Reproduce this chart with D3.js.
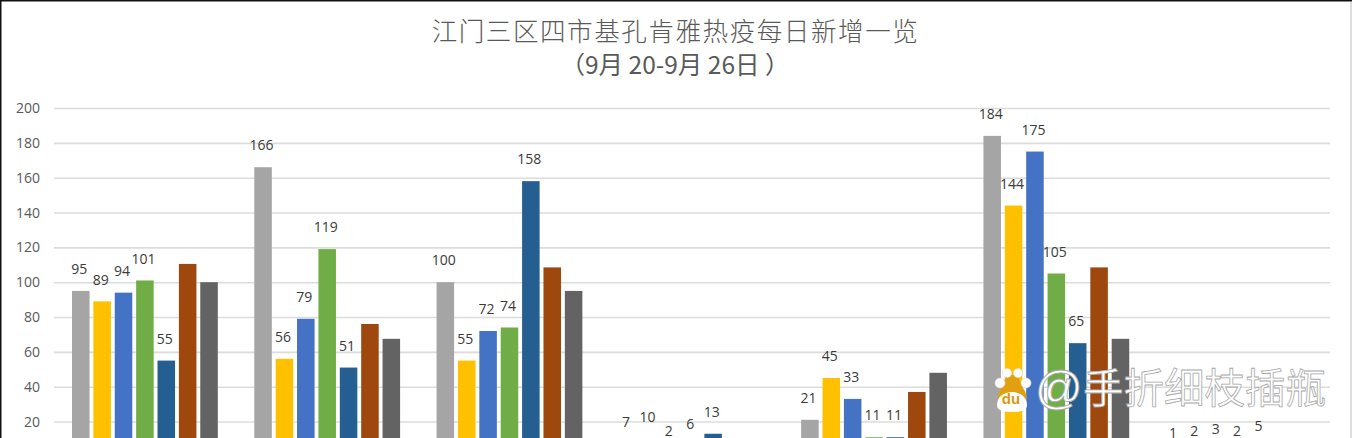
<!DOCTYPE html>
<html><head><meta charset="utf-8">
<script src="https://cdn.jsdelivr.net/npm/d3@7/dist/d3.min.js"></script>
<style>html,body{margin:0;padding:0;background:#fff}svg{display:block}.t{text-spacing-trim:space-all;font-feature-settings:"palt" 0}</style>
</head><body><svg id="c" width="1352" height="438"></svg>
<script>
const days=["g1","g2","g3","g4","g5","g6","g7"];
const s1=[95,166,100,7,21,184,1];
const s2=[89,56,55,10,45,144,2];
const s3=[94,79,72,2,33,175,3];
const s4=[101,119,74,6,11,105,2];
const s5=[55,51,158,13,11,65,5];
const s6=[110.5,76,108.5,null,37,108.5,null];
const s7=[100,67.5,95,null,48,67.5,null];
const seriesValues=[s1,s2,s3,s4,s5,s6,s7];
const seriesColors=["#a5a5a5","#ffc000","#4472c4","#70ad47","#255e91","#9e480e","#636363"];
const labelled=[true,true,true,true,true,false,false];
const yTicks=[20,40,60,80,100,120,140,160,180,200];
const titleLines=["江门三区四市基孔肯雅热疫每日新增一览","（9月 20-9月 26日 ）"];
const watermarkAt="@";
const watermark="手折细枝插瓶";

const svg=d3.select("#c");
const y=d3.scaleLinear().domain([0,200]).range([456.4,108]);
const x=d3.scaleBand().domain(days).range([54,1330]);
const xs=d3.scaleBand().domain(d3.range(7)).range([18,163.8]).paddingInner(0.18).paddingOuter(0);

svg.append("rect").attr("width",1352).attr("height",438).attr("fill","#fff");
svg.append("rect").attr("x",1350).attr("y",2).attr("width",2).attr("height",436).attr("fill","#dedede");
svg.append("path").attr("d","M0.5,438V0.5H1352").attr("fill","none").attr("stroke","#111").attr("stroke-width",2);

const axis=d3.axisLeft(y).tickValues(yTicks).tickSize(-1276).tickPadding(14);
const ag=svg.append("g").attr("transform","translate(54,0)").call(axis);
ag.select(".domain").remove();
ag.selectAll("line").attr("stroke","#dcdcdc").attr("stroke-width",1.6);
ag.selectAll("text").attr("fill","#595959").attr("font-family","'Open Sans','Noto Sans',sans-serif").attr("font-size",14);

seriesValues.forEach((vals,i)=>{
  const g=svg.append("g");
  const pts=days.map((d,j)=>({d,v:vals[j]})).filter(p=>p.v!==null);
  g.selectAll("rect").data(pts).join("rect")
    .attr("x",p=>x(p.d)+xs(i)).attr("width",xs.bandwidth())
    .attr("y",p=>y(p.v)).attr("height",p=>y(0)-y(p.v))
    .attr("fill",seriesColors[i]);
  if(labelled[i]) g.selectAll("text").data(pts).join("text")
    .attr("x",p=>x(p.d)+xs(i)+xs.bandwidth()/2-1.5)
    .attr("y",p=>y(p.v)-16.8)
    .attr("text-anchor","middle")
    .attr("fill","#3a3a3a")
    .attr("font-family","'Open Sans','Noto Sans',sans-serif")
    .attr("font-size",14)
    .text(p=>p.v);
});

svg.selectAll("text.t").data(titleLines).join("text").attr("class","t")
  .attr("x",(d,i)=>i?675:675.5).attr("y",(d,i)=>i?74:41)
  .attr("text-anchor","middle").attr("fill","#595959")
  .attr("font-family","'Noto Sans CJK SC',sans-serif").attr("font-weight",(d,i)=>i?400:300)
  .attr("font-size",(d,i)=>i?24.5:25.6).attr("letter-spacing",(d,i)=>i?0:1.5)
  .style("white-space","pre")
  .text(d=>d);

// watermark
const wm=svg.append("g");
wm.append("path").attr("d","M1012,375C1005,375 1003,383 1001,388C997,394 996,405 1004,406C1010,407 1014,407 1020,406C1028,405 1028,394 1023,388C1021,383 1019,375 1012,375Z").attr("fill","#e0a010");
const paw=wm.append("g").attr("fill","#fff").attr("stroke","#ddd").attr("stroke-width",0.6);
[[1007,373,4.6],[1018,373,4.6],[1000,383,5],[1026,383,5]].forEach(c=>paw.append("circle").attr("cx",c[0]).attr("cy",c[1]).attr("r",c[2]));
wm.append("path").attr("d","M997,405C997,397 1004,392 1012,392C1020,392 1027,397 1027,405C1027,411 1020,412 1012,412C1004,412 997,411 997,405Z").attr("fill","#fff");
wm.append("text").attr("x",1011).attr("y",404).attr("text-anchor","middle").attr("fill","#d9990f").attr("font-family","'Liberation Sans',sans-serif").attr("font-weight",700).attr("font-size",15).text("du");
wm.append("text").attr("x",1035).attr("y",404).attr("fill","#fff").attr("stroke","#a8a8a8").attr("stroke-width",0.8)
  .attr("font-family","'Liberation Sans',sans-serif").attr("font-size",47).text(watermarkAt);
wm.append("text").attr("x",1083).attr("y",403).attr("fill","#fff").attr("stroke","#a8a8a8").attr("stroke-width",0.8)
  .attr("font-family","'Noto Sans CJK SC',sans-serif").attr("font-size",41).attr("textLength",243).attr("lengthAdjust","spacingAndGlyphs").text(watermark);
</script></body></html>
